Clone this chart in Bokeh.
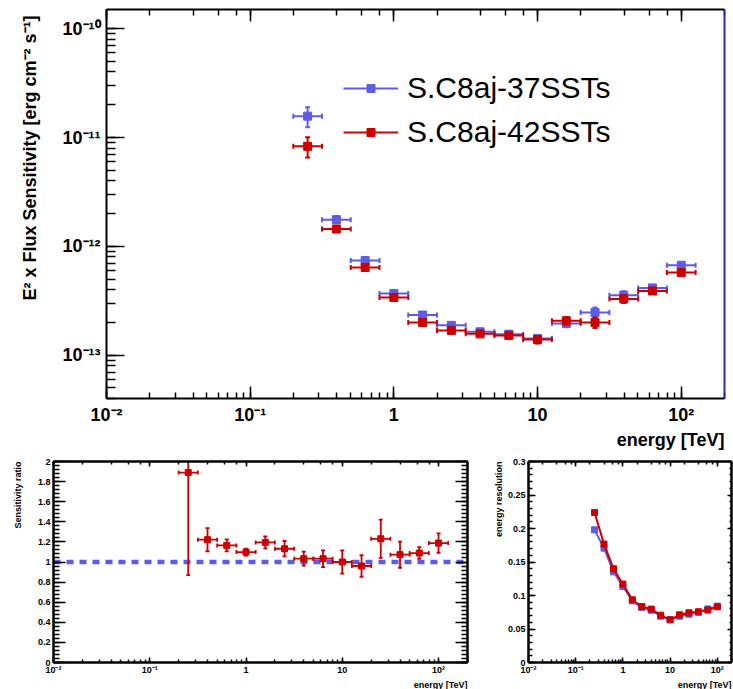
import numpy as np
from bokeh.plotting import figure
from bokeh.models import (LogAxis, LinearAxis, Range1d, Legend, LegendItem, Span, Title,
                          CustomJSTickFormatter, SingleIntervalTicker, LogTicker)
from bokeh.layouts import column, row
from bokeh.embed import file_html
from bokeh.resources import INLINE

# ---------------- data ----------------
energy = [0.251, 0.398, 0.631, 1.0, 1.585, 2.512, 3.981, 6.310, 10.0, 15.85, 25.12, 39.81, 63.10, 100.0]
bin_lo = [0.1995, 0.3162, 0.5012, 0.7943, 1.259, 1.995, 3.162, 5.012, 7.943, 12.59, 19.95, 31.62, 50.12, 79.43]
bin_hi = [0.3162, 0.5012, 0.7943, 1.259, 1.995, 3.162, 5.012, 7.943, 12.59, 19.95, 31.62, 50.12, 79.43, 125.9]

sens_37 = [1.57e-11, 1.76e-12, 7.41e-13, 3.69e-13, 2.34e-13, 1.88e-13, 1.64e-13,
           1.56e-13, 1.42e-13, 1.96e-13, 2.47e-13, 3.56e-13, 4.15e-13, 6.70e-13]
sens_37_err = [3.3e-12, 1.18e-13, 2.7e-14, 8.5e-15, 8.2e-15, 9.0e-15, 7.9e-15,
               8.9e-15, 1.14e-14, 1.55e-14, 2.7e-14, 3.0e-14, 1.6e-14, 3.8e-14]
sens_42 = [8.30e-12, 1.445e-12, 6.39e-13, 3.39e-13, 2.00e-13, 1.69e-13, 1.57e-13,
           1.52e-13, 1.39e-13, 2.07e-13, 2.00e-13, 3.29e-13, 3.89e-13, 5.74e-13]
sens_42_err = [1.75e-12, 9.7e-14, 2.3e-14, 7.8e-15, 7.0e-15, 8.1e-15, 7.5e-15,
               8.7e-15, 1.1e-14, 1.6e-14, 2.2e-14, 2.8e-14, 1.5e-14, 3.3e-14]

ratio = [1.89, 1.222, 1.165, 1.099, 1.195, 1.132, 1.033, 1.033, 1.00, 0.96, 1.231, 1.073, 1.089, 1.188]
ratio_err = [1.02, 0.115, 0.06, 0.035, 0.06, 0.077, 0.07, 0.083, 0.115, 0.107, 0.19, 0.13, 0.058, 0.096]

eres_37 = [0.198, 0.1707, 0.1354, 0.1134, 0.092, 0.082, 0.078, 0.069, 0.064, 0.069, 0.072, 0.075, 0.080, 0.084]
eres_42 = [0.224, 0.1767, 0.140, 0.117, 0.0936, 0.0836, 0.0797, 0.0707, 0.0637, 0.0712, 0.0742, 0.0757, 0.0782, 0.0831]

labels = ["S.C8aj-37SSTs", "S.C8aj-42SSTs"]
x_title = "energy [TeV]"
y_title_top = "E\u00b2 x Flux Sensitivity [erg cm\u207b\u00b2 s\u207b\u00b9]"
y_title_ratio = "Sensitivity ratio"
y_title_eres = "energy resolution"

# ---------------- style ----------------
FONT = "Liberation Sans"
RED = "#cc0000"
BLUE = "#5c5ce4"
FRAME_BLUE = "#2b2bb5"

LOG_FMT = CustomJSTickFormatter(code="""
const lg = Math.log10(tick);
const e = Math.round(lg);
if (Math.abs(lg - e) > 1e-6) return "";
if (e === 0) return "1";
if (e === 1) return "10";
const sup = {"-":"\u207b","0":"\u2070","1":"\u00b9","2":"\u00b2","3":"\u00b3","4":"\u2074","5":"\u2075","6":"\u2076","7":"\u2077","8":"\u2078","9":"\u2079"};
return "10" + String(e).split("").map(c => sup[c]).join("");
""")
LIN_FMT = CustomJSTickFormatter(code="return String(parseFloat(tick.toFixed(4)));")


def empty_fmt():
    return CustomJSTickFormatter(code='return "";')


def style_axis(ax, major_in, minor_in, label_size="10px", standoff=3, lw=2, tick_lw=1.5, labels_on=True):
    ax.axis_line_width = lw
    ax.axis_line_color = "black"
    ax.major_tick_in = major_in
    ax.major_tick_out = 0
    ax.minor_tick_in = minor_in
    ax.minor_tick_out = 0
    ax.major_tick_line_width = tick_lw
    ax.minor_tick_line_width = tick_lw
    ax.major_label_text_font = FONT
    ax.major_label_text_font_style = "bold"
    ax.major_label_text_color = "black"
    if labels_on:
        ax.major_label_text_font_size = label_size
        ax.major_label_standoff = standoff
    else:
        ax.formatter = empty_fmt()
        ax.major_label_text_font_size = "0px"
        ax.major_label_standoff = 0


def base_fig(w, h, xr, yr, ytype, mbl, mbr, mbt, mbb):
    p = figure(width=w, height=h, x_axis_type="log", y_axis_type=ytype,
               x_range=xr, y_range=yr, output_backend="svg", toolbar_location=None,
               min_border_left=mbl, min_border_right=mbr, min_border_top=mbt, min_border_bottom=mbb)
    p.xgrid.visible = False
    p.ygrid.visible = False
    p.outline_line_color = None
    p.background_fill_color = "white"
    p.border_fill_color = "white"
    return p


def add_title(p, text, side, size, standoff, offset=0, valign="bottom"):
    p.add_layout(Title(text=text, align="right", vertical_align=valign, text_font=FONT,
                       text_font_size=size, text_font_style="bold", text_color="black",
                       offset=offset, standoff=standoff), side)


def error_points(p, xs, ys, yerr, xlo, xhi, color, msize, cap, lw=2):
    ys = np.asarray(ys, dtype=float)
    yerr = np.asarray(yerr, dtype=float)
    hseg = p.segment(x0=xlo, y0=ys, x1=xhi, y1=ys, line_color=color, line_width=lw)
    p.segment(x0=xs, y0=ys - yerr, x1=xs, y1=ys + yerr, line_color=color, line_width=lw)
    p.scatter(x=xlo, y=ys, marker="dash", angle=np.pi / 2, size=cap, line_color=color, line_width=lw)
    p.scatter(x=xhi, y=ys, marker="dash", angle=np.pi / 2, size=cap, line_color=color, line_width=lw)
    p.scatter(x=xs, y=ys - yerr, marker="dash", size=cap, line_color=color, line_width=lw)
    p.scatter(x=xs, y=ys + yerr, marker="dash", size=cap, line_color=color, line_width=lw)
    mk = p.scatter(x=xs, y=ys, marker="square", size=msize, fill_color=color, line_color=color)
    return hseg, mk


# ---------------- top panel ----------------
top = base_fig(733, 452, Range1d(0.01, 200), Range1d(4e-14, 1.5e-10), "log", 106, 9, 9, 54)
style_axis(top.xaxis[0], 12, 6, "18px", standoff=6)
style_axis(top.yaxis[0], 18, 9, "18px", standoff=6)
top.xaxis[0].formatter = LOG_FMT
top.yaxis[0].formatter = LOG_FMT
ax_top = LogAxis(ticker=LogTicker())
style_axis(ax_top, 12, 6, labels_on=False)
top.add_layout(ax_top, "above")
ax_r = LogAxis(ticker=LogTicker())
style_axis(ax_r, 0, 0, labels_on=False)
ax_r.axis_line_color = FRAME_BLUE
ax_r.major_tick_line_color = None
ax_r.minor_tick_line_color = None
top.add_layout(ax_r, "right")

h37, m37 = error_points(top, energy, sens_37, sens_37_err, bin_lo, bin_hi, BLUE, 8, 5)
h42, m42 = error_points(top, energy, sens_42, sens_42_err, bin_lo, bin_hi, RED, 8, 5)

legend = Legend(items=[LegendItem(label=labels[0], renderers=[h37, m37]),
                       LegendItem(label=labels[1], renderers=[h42, m42])],
                location=(237, 249), orientation="vertical",
                glyph_width=55, glyph_height=20, label_height=20, spacing=10,
                label_standoff=9, padding=0, margin=0,
                border_line_color=None, background_fill_alpha=0,
                label_text_font=FONT, label_text_font_size="30px", label_text_color="black")
top.add_layout(legend, "center")

add_title(top, x_title, "below", "18px", 0)
add_title(top, y_title_top, "left", "18px", 36, offset=6, valign="top")

# ---------------- ratio panel ----------------
rat = base_fig(480, 237, Range1d(0.01, 200), Range1d(0, 2), "linear", 53, 13, 9, 26)
style_axis(rat.xaxis[0], 5, 3, "9px", standoff=2, lw=2.5)
rat.xaxis[0].formatter = LOG_FMT
style_axis(rat.yaxis[0], 12, 6, "9px", standoff=3, lw=2.5)
rat.yaxis[0].ticker = SingleIntervalTicker(interval=0.2, num_minor_ticks=5)
rat.yaxis[0].formatter = LIN_FMT
a = LogAxis(ticker=LogTicker()); style_axis(a, 5, 3, lw=2.5, labels_on=False); rat.add_layout(a, "above")
a = LinearAxis(ticker=SingleIntervalTicker(interval=0.2, num_minor_ticks=5)); style_axis(a, 12, 6, lw=2.5, labels_on=False); rat.add_layout(a, "right")

span = Span(location=1, dimension="width", line_color=BLUE, line_width=4.5, line_dash="7 6", level="underlay")
rat.add_layout(span)
error_points(rat, energy, ratio, ratio_err, bin_lo, bin_hi, RED, 6, 4, lw=1.8)

add_title(rat, x_title, "below", "9px", 0)
add_title(rat, y_title_ratio, "left", "9px", 20, valign="top")

# ---------------- energy resolution panel ----------------
er = base_fig(253, 237, Range1d(0.01, 200), Range1d(0, 0.30001), "linear", 48, 2, 9, 26)
style_axis(er.xaxis[0], 5, 3, "9px", standoff=2, lw=2.5)
er.xaxis[0].formatter = LOG_FMT
style_axis(er.yaxis[0], 7, 4, "9px", standoff=3, lw=2.5)
er.yaxis[0].ticker = SingleIntervalTicker(interval=0.05, num_minor_ticks=5)
er.yaxis[0].formatter = LIN_FMT
a = LogAxis(ticker=LogTicker()); style_axis(a, 5, 3, lw=2.5, labels_on=False); er.add_layout(a, "above")
a = LinearAxis(ticker=SingleIntervalTicker(interval=0.05, num_minor_ticks=5)); style_axis(a, 4, 2, lw=2.5, labels_on=False); er.add_layout(a, "right")

er.line(energy, eres_37, line_color=BLUE, line_width=2)
er.scatter(energy, eres_37, marker="square", size=6, fill_color=BLUE, line_color=BLUE)
er.line(energy, eres_42, line_color=RED, line_width=2)
er.scatter(energy, eres_42, marker="square", size=6, fill_color=RED, line_color=RED)

add_title(er, x_title, "below", "9px", 0)
add_title(er, y_title_eres, "left", "9px", 2)

layout = column(top, row(rat, er, spacing=0), spacing=0)
open("out.html", "w").write(file_html(layout, INLINE))
